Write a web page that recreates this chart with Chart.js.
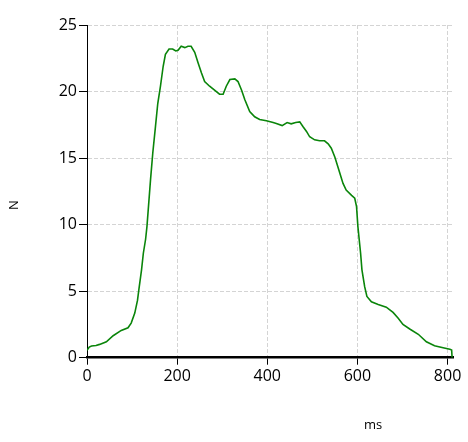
<!DOCTYPE html>
<html>
<head>
<meta charset="utf-8">
<script src="https://cdn.jsdelivr.net/npm/chart.js@4"></script>
<style>
  html, body { margin: 0; padding: 0; background: #fff; }
  #wrap { width: 468px; height: 442px; }
</style>
</head>
<body>
<div id="wrap"><canvas id="myChart" width="468" height="442"></canvas></div>
<script>
// time in ms and force in N
const timeMs = [0, 5, 10, 20, 28, 43, 58, 76, 91, 98, 106, 112, 115, 121, 125, 130, 133, 141, 146, 152,
  157, 163, 169, 174, 182, 190, 197, 202, 209, 217, 224, 231, 239, 246, 254, 261, 272, 283, 294, 302,
  309, 317, 328, 335, 343, 350, 361, 372, 383, 398, 413, 420, 433, 444, 453, 463, 472, 479, 487, 494,
  505, 516, 527, 535, 542, 550, 561, 568, 575, 587, 594, 598, 601, 607, 610, 616, 621, 631, 646, 664,
  679, 690, 701, 716, 735, 753, 771, 790, 805, 809, 810];
const forceN = [0.55, 0.8, 0.88, 0.92, 1.0, 1.2, 1.65, 2.05, 2.25, 2.6, 3.35, 4.3, 5.1, 6.6, 7.85, 8.9, 9.85, 13.4, 15.4, 17.4,
  19.1, 20.4, 21.9, 22.8, 23.2, 23.2, 23.05, 23.1, 23.4, 23.3, 23.4, 23.4, 22.95, 22.2, 21.4, 20.75, 20.4, 20.1, 19.8, 19.8,
  20.4, 20.9, 20.95, 20.75, 20.1, 19.4, 18.5, 18.1, 17.9, 17.8, 17.67, 17.6, 17.44, 17.67, 17.57, 17.67, 17.72, 17.37, 17.0, 16.6,
  16.37, 16.3, 16.3, 16.07, 15.74, 15.07, 13.86, 13.1, 12.6, 12.2, 11.98, 11.35, 9.85, 7.85, 6.6, 5.34, 4.6, 4.2, 4.0, 3.8,
  3.4, 2.98, 2.5, 2.16, 1.76, 1.2, 0.9, 0.75, 0.63, 0.58, 0];
const xTicks = [0, 200, 400, 600, 800];
const yTicks = [0, 5, 10, 15, 20, 25];
const xTitle = "ms";
const yTitle = "N";

const points = timeMs.map((t, i) => ({ x: t, y: forceN[i] }));
const tickFont = { family: "'Open Sans', sans-serif", size: 16 };

// axis titles sit where the original put them (ms is off to the right)
const axisTitles = {
  id: "axisTitles",
  afterDraw(chart) {
    const c = chart.ctx;
    c.save();
    c.fillStyle = "#000";
    c.font = "13px 'Open Sans', sans-serif";
    c.textAlign = "center";
    c.textBaseline = "middle";
    c.fillText(xTitle, 373, 425);
    c.translate(14, 205);
    c.rotate(-Math.PI / 2);
    c.fillText(yTitle, 0, 0);
    c.restore();
  }
};

const ctx = document.getElementById("myChart");
new Chart(ctx, {
  type: "scatter",
  data: {
    datasets: [{
      data: points,
      showLine: true,
      borderColor: "#0a850a",
      borderWidth: 1.6,
      pointRadius: 0,
      tension: 0
    }]
  },
  options: {
    responsive: false,
    animation: false,
    layout: { padding: { top: 25, right: 15, left: 0, bottom: 0 } },
    plugins: { legend: { display: false }, tooltip: { enabled: false } },
    scales: {
      x: {
        type: "linear",
        min: 0,
        max: 812,
        afterFit(scale) { scale.height = 84.3; },
        afterBuildTicks(scale) { scale.ticks = xTicks.map(v => ({ value: v })); },
        ticks: { font: tickFont, color: "#000", padding: 2, includeBounds: false },
        border: { color: "#000", width: 2.5, dash: [4, 2] },
        grid: {
          color: "#d4d4d4",
          tickColor: "#000",
          tickLength: 7,
          tickBorderDash: []
        }
      },
      y: {
        min: 0,
        max: 25,
        afterFit(scale) { scale.width = 87; },
        afterBuildTicks(scale) { scale.ticks = yTicks.map(v => ({ value: v })); },
        ticks: { font: tickFont, color: "#000", padding: 2 },
        border: { color: "#000", width: 1, dash: [4, 2] },
        grid: {
          color: "#d4d4d4",
          tickColor: "#000",
          tickLength: 8,
          tickBorderDash: []
        }
      }
    }
  },
  plugins: [axisTitles]
});
</script>
</body>
</html>
